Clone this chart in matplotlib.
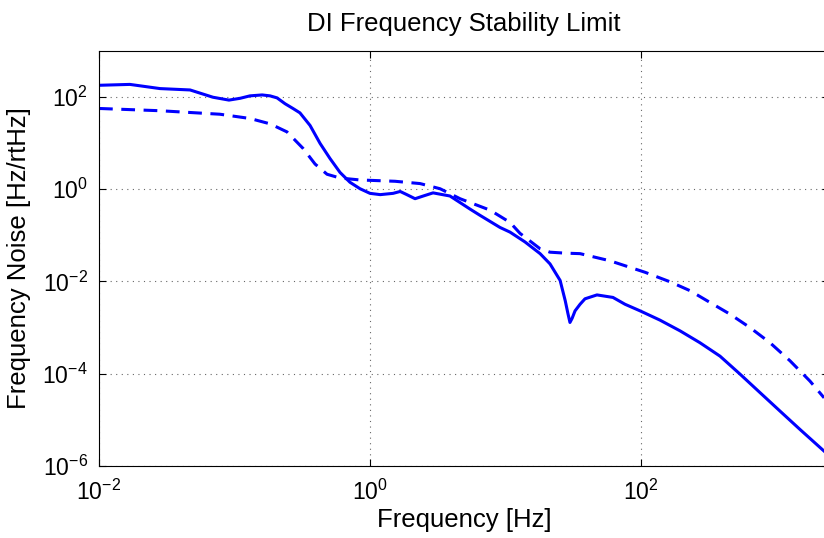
import numpy as np
import matplotlib.pyplot as plt
from matplotlib.ticker import NullLocator

plt.rcParams['font.family'] = ['Liberation Sans', 'DejaVu Sans']
plt.rcParams['mathtext.fontset'] = 'custom'
plt.rcParams['mathtext.rm'] = 'Liberation Sans'
plt.rcParams['mathtext.default'] = 'regular'

# solid curve (frequency noise)
f_solid = [0.01, 0.0169, 0.0282, 0.047, 0.0694, 0.091, 0.110, 0.130, 0.160, 0.183,
           0.206, 0.236, 0.270, 0.304, 0.361, 0.428, 0.507, 0.601, 0.711, 0.844,
           1.0, 1.19, 1.48, 1.67, 1.87, 2.15, 2.51, 2.92, 3.89, 5.47,
           6.49, 9.1, 10.8, 13.9, 18.0, 21.3, 25.3, 27.6, 28.9, 29.9,
           31.0, 32.6, 35.5, 38.6, 47.3, 62.1, 76.2, 98.5, 138, 194,
           272, 383, 538, 755, 1061, 1490, 2245]
v_solid = [178, 186, 151, 141, 98, 85, 93, 105, 110, 105,
           95, 71, 56, 45, 24, 9.8, 4.6, 2.3, 1.41, 1.02,
           0.81, 0.76, 0.81, 0.89, 0.76, 0.62, 0.72, 0.83, 0.71, 0.37,
           0.27, 0.148, 0.117, 0.072, 0.040, 0.024, 0.0105, 0.0038, 0.0020, 0.00129,
           0.00158, 0.0023, 0.0032, 0.0042, 0.0051, 0.0045, 0.0032, 0.0023, 0.00145, 0.00085,
           0.00047, 0.00024, 9.8e-5, 3.9e-5, 1.55e-5, 6.2e-6, 2.1e-6]

# dashed curve (stability limit)
f_dash = [0.01, 0.0282, 0.078, 0.130, 0.183, 0.244, 0.321, 0.393, 0.482, 0.601,
          0.844, 1.53, 2.34, 3.29, 4.62, 7.7, 10.8, 12.8, 18.0, 21.3,
          27.6, 35.5, 59, 107, 164, 230, 323, 454, 637, 895,
          1259, 1767, 2245]
v_dash = [56, 50, 42, 34, 26, 17.4, 7.6, 3.5, 2.1, 1.74,
          1.58, 1.48, 1.32, 1.02, 0.62, 0.35, 0.19, 0.11, 0.051, 0.043,
          0.041, 0.040, 0.028, 0.0158, 0.0098, 0.0063, 0.0035, 0.00195, 0.0010, 0.00047,
          0.00019, 6.9e-5, 3.0e-5]

fig = plt.figure(figsize=(8.24, 5.38), dpi=100)
ax = fig.add_axes([99 / 824, 72 / 538, 730 / 824, 415.3 / 538])

ax.loglog(f_solid, v_solid, color='blue', lw=2.2)
ax.loglog(f_dash, v_dash, color='blue', lw=2.2, linestyle='--', dashes=(4.5, 2.8))

ax.set_xlim(1e-2, 2440)
ax.set_ylim(1e-6, 1e3)
ax.set_xticks([1e-2, 1e0, 1e2])
ax.set_yticks([1e-6, 1e-4, 1e-2, 1e0, 1e2])
ax.xaxis.set_minor_locator(NullLocator())
ax.yaxis.set_minor_locator(NullLocator())
ax.tick_params(direction='in', top=True, right=True, labelsize=16.5, length=5)
ax.tick_params(axis='x', pad=10)
ax.tick_params(axis='y', pad=8)
ax.grid(True, linestyle=(0, (1, 4)), color='black', lw=0.8, alpha=0.6)

ax.set_xlabel('Frequency [Hz]', fontsize=18.5, labelpad=2)
ax.set_ylabel('Frequency Noise [Hz/rtHz]', fontsize=18.5, labelpad=8)
ax.set_title('DI Frequency Stability Limit', fontsize=18.5, pad=14)

fig.savefig('out.png', dpi=100)
